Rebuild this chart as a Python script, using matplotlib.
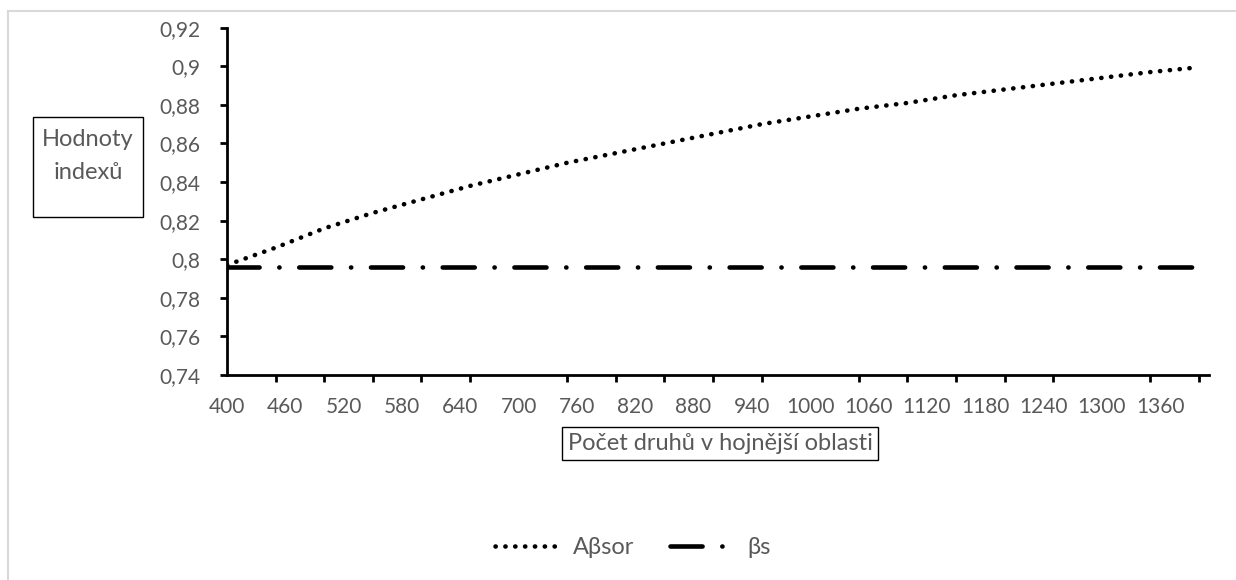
"""
Hodnoty indexů Aβsor a βs v závislosti na počtu druhů v hojnější oblasti.
"""

import numpy as np
import matplotlib.pyplot as plt
from matplotlib.lines import Line2D
from matplotlib.patches import Rectangle

plt.rcParams["font.family"] = ["Lato", "DejaVu Sans"]

# ── data ──────────────────────────────────────────────────────────────────────
pocet_druhu = [400, 450, 500, 550, 600, 650, 700, 750, 800, 850, 900,
               950, 1000, 1050, 1100, 1150, 1200, 1250, 1300, 1350, 1400]
a_beta_sor = [0.797, 0.806, 0.816, 0.824, 0.831, 0.838, 0.844, 0.850, 0.855,
              0.860, 0.865, 0.870, 0.874, 0.878, 0.881, 0.885, 0.888, 0.891,
              0.894, 0.897, 0.8995]
beta_s = [0.796, 0.796, 0.796, 0.796, 0.796, 0.796, 0.796, 0.796, 0.796,
          0.796, 0.796, 0.796, 0.796, 0.796, 0.796, 0.796, 0.796, 0.796,
          0.796, 0.796, 0.796]

x_labels = list(range(400, 1361, 60))
y_ticks = [0.74, 0.76, 0.78, 0.80, 0.82, 0.84, 0.86, 0.88, 0.90, 0.92]

GREY = "#595959"
W, H = 1236, 580

# ── figure ────────────────────────────────────────────────────────────────────
fig = plt.figure(figsize=(W / 100, H / 100), dpi=100)
ax = fig.add_axes([227 / W, 1 - 375 / H, (1209 - 227) / W, (375 - 27.7) / H])

dot_style = dict(color="black", lw=3.3, dashes=(0.05, 2.1), dash_capstyle="round")
dashdot_style = dict(color="black", lw=3.3, dashes=(7.0, 4.3, 0.05, 4.3),
                     dash_capstyle="round")
ax.plot(pocet_druhu, a_beta_sor, **dot_style)
ax.plot(pocet_druhu, beta_s, **dashdot_style)

ax.set_xlim(400, 1410.3)
ax.set_ylim(0.74, 0.92)

# labels every 60, tick marks every 50 (Excel category axis look)
ax.set_xticks(x_labels)
ax.set_xticklabels([str(v) for v in x_labels])
ax.set_xticks(pocet_druhu, minor=True)
ax.tick_params(axis="x", which="major", length=0, pad=16, labelsize=15,
               labelcolor=GREY)
ax.tick_params(axis="x", which="minor", length=5, width=2, direction="out")

ax.set_yticks(y_ticks)
ax.set_yticklabels([f"{v:g}".replace(".", ",") for v in y_ticks])
ax.tick_params(axis="y", length=5, width=2, pad=14, labelsize=15,
               labelcolor=GREY)

for side in ("top", "right"):
    ax.spines[side].set_visible(False)
for side in ("left", "bottom"):
    ax.spines[side].set_linewidth(2)

# boxed axis titles
fig.add_artist(Rectangle((33 / W, 1 - 217 / H), 110 / W, 100 / H,
                         transform=fig.transFigure, fc="white", ec="black",
                         lw=1))
fig.text(88 / W, 1 - 156 / H, "Hodnoty\nindexů", ha="center", va="center",
         fontsize=17, color=GREY, linespacing=1.65)
fig.text(720 / W, 1 - 443.5 / H, "Počet druhů v hojnější oblasti", ha="center",
         va="center", fontsize=17, color=GREY,
         bbox=dict(boxstyle="square,pad=0.25", fc="white", ec="black", lw=1))

# legend
handles = [Line2D([], [], **dot_style), Line2D([], [], **dashdot_style)]
leg = fig.legend(handles, ["Aβsor", "βs"], loc="center", ncol=2,
                 bbox_to_anchor=(633 / W, 1 - 548 / H), frameon=False,
                 fontsize=17, handlelength=2.6, handletextpad=0.7,
                 columnspacing=1.5)
for t in leg.get_texts():
    t.set_color(GREY)

# chart area border (top and left edges visible)
fig.add_artist(Line2D([8 / W, 8 / W], [0, 1 - 11 / H], color="#d9d9d9", lw=1.5))
fig.add_artist(Line2D([8 / W, 1], [1 - 11 / H, 1 - 11 / H], color="#d9d9d9",
                      lw=1.5))

fig.savefig("out.png", dpi=100)
